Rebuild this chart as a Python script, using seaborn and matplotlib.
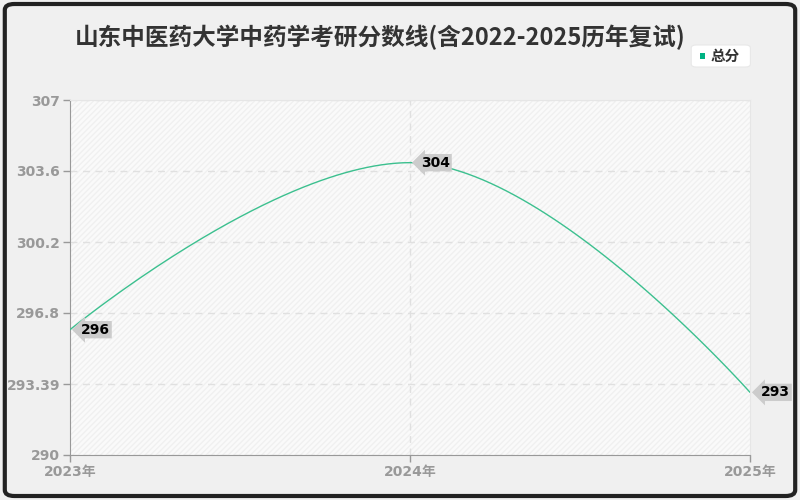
import numpy as np
import matplotlib.pyplot as plt
import seaborn as sns
from matplotlib.patches import FancyBboxPatch, Rectangle

# data
years = ["2023年", "2024年", "2025年"]
scores = [296, 304, 293]
yticks = [290, 293.39, 296.8, 300.2, 303.6, 307]
series_name = "总分"
title = "山东中医药大学中药学考研分数线(含2022-2025历年复试)"

line_color = "#3cc08f"

sns.set_style("white")
plt.rcParams['font.family'] = ['DejaVu Sans', 'Noto Sans CJK SC']


def smooth_curve(xs, ys, smoothing=1.5, n=60):
    # highcharts-like spline: bezier between points
    xs = list(map(float, xs)); ys = list(map(float, ys))
    m = len(xs)
    left = [(x, y) for x, y in zip(xs, ys)]
    right = [(x, y) for x, y in zip(xs, ys)]
    d = smoothing + 1
    for i in range(1, m - 1):
        lx = (smoothing * xs[i] + xs[i - 1]) / d
        ly = (smoothing * ys[i] + ys[i - 1]) / d
        rx = (smoothing * xs[i] + xs[i + 1]) / d
        ry = (smoothing * ys[i] + ys[i + 1]) / d
        corr = (ry - ly) * (rx - xs[i]) / (rx - lx) + ys[i] - ry
        ly += corr
        ry += corr
        if ly > ys[i - 1] and ly > ys[i]:
            ly = max(ys[i - 1], ys[i]); ry = 2 * ys[i] - ly
        elif ly < ys[i - 1] and ly < ys[i]:
            ly = min(ys[i - 1], ys[i]); ry = 2 * ys[i] - ly
        if ry > ys[i + 1] and ry > ys[i]:
            ry = max(ys[i + 1], ys[i]); ly = 2 * ys[i] - ry
        elif ry < ys[i + 1] and ry < ys[i]:
            ry = min(ys[i + 1], ys[i]); ly = 2 * ys[i] - ry
        left[i] = (lx, ly)
        right[i] = (rx, ry)
    t = np.linspace(0, 1, n)[:, None]
    pts = []
    for i in range(m - 1):
        p0 = np.array([xs[i], ys[i]]); p1 = np.array(right[i])
        p2 = np.array(left[i + 1]); p3 = np.array([xs[i + 1], ys[i + 1]])
        b = (1 - t) ** 3 * p0 + 3 * (1 - t) ** 2 * t * p1 + 3 * (1 - t) * t ** 2 * p2 + t ** 3 * p3
        pts.append(b if i == 0 else b[1:])
    pts = np.vstack(pts)
    return pts[:, 0], pts[:, 1]


fig = plt.figure(figsize=(8, 5), dpi=100)
fig.patch.set_facecolor("#f0f0f0")
fig.patches.append(FancyBboxPatch((0.006, 0.008), 0.988, 0.984, boxstyle="round,pad=0,rounding_size=0.012",
                                  transform=fig.transFigure, fc="none", ec="#222222", lw=3, zorder=10))

ax = fig.add_axes([0.0875, 0.09, 0.85, 0.71])
ax.set_facecolor("#fafafa")
ax.add_patch(Rectangle((0, 0), 1, 1, transform=ax.transAxes, fc="none", ec="#f0f0f0",
                       hatch="//////", lw=0, zorder=0))

x = np.arange(len(years))
cx, cy = smooth_curve(x, scores)
sns.lineplot(x=cx, y=cy, ax=ax, color=line_color, lw=1, sort=False, zorder=3)

for xi, yi in zip(x, scores):
    ax.annotate(str(yi), xy=(xi, yi), xytext=(8, 0), textcoords="offset points",
                ha="left", va="center", fontsize=10, fontweight="bold", color="black",
                bbox=dict(boxstyle="larrow,pad=0.12", fc="#cccccc", ec="none"), zorder=5,
                annotation_clip=False)

ax.set_xlim(0, 2)
ax.set_ylim(290, 307)
ax.set_xticks(x)
ax.set_xticklabels(years)
ax.set_yticks(yticks)
ax.set_yticklabels([f"{v:g}" for v in yticks])
ax.tick_params(axis="both", colors="#999999", labelsize=10, length=5, width=1, direction="out",
               left=True, bottom=True, pad=2)
for lab in ax.get_xticklabels() + ax.get_yticklabels():
    lab.set_color("#999999")
    lab.set_fontweight("bold")
for s in ["left", "bottom"]:
    ax.spines[s].set_color("#999999")
for s in ["right", "top"]:
    ax.spines[s].set_color("#e6e6e6")
ax.grid(axis="y", ls=(0, (5, 4)), color="#e0e0e0", lw=1)
ax.axvline(1, ls=(0, (5, 4)), color="#e0e0e0", lw=1, zorder=1)
ax.set_xlabel("")
ax.set_ylabel("")

fig.text(0.475, 0.926, title, ha="center", va="center", fontsize=17, fontweight="bold",
         color="#333333", family=["Noto Sans CJK SC", "DejaVu Sans"])

# legend box
fig.patches.append(FancyBboxPatch((0.864, 0.866), 0.074, 0.044, boxstyle="round,pad=0,rounding_size=0.006",
                                  transform=fig.transFigure, fc="white", ec="#e8e8e8", lw=0.8))
fig.patches.append(Rectangle((0.875, 0.883), 0.006, 0.01, transform=fig.transFigure, fc="#00b383", ec="none"))
fig.text(0.907, 0.888, series_name, ha="center", va="center", fontsize=10.5, fontweight="bold",
         color="#333333", family=["Noto Sans CJK SC", "DejaVu Sans"])

fig.savefig("out.png", dpi=100, facecolor=fig.get_facecolor())
